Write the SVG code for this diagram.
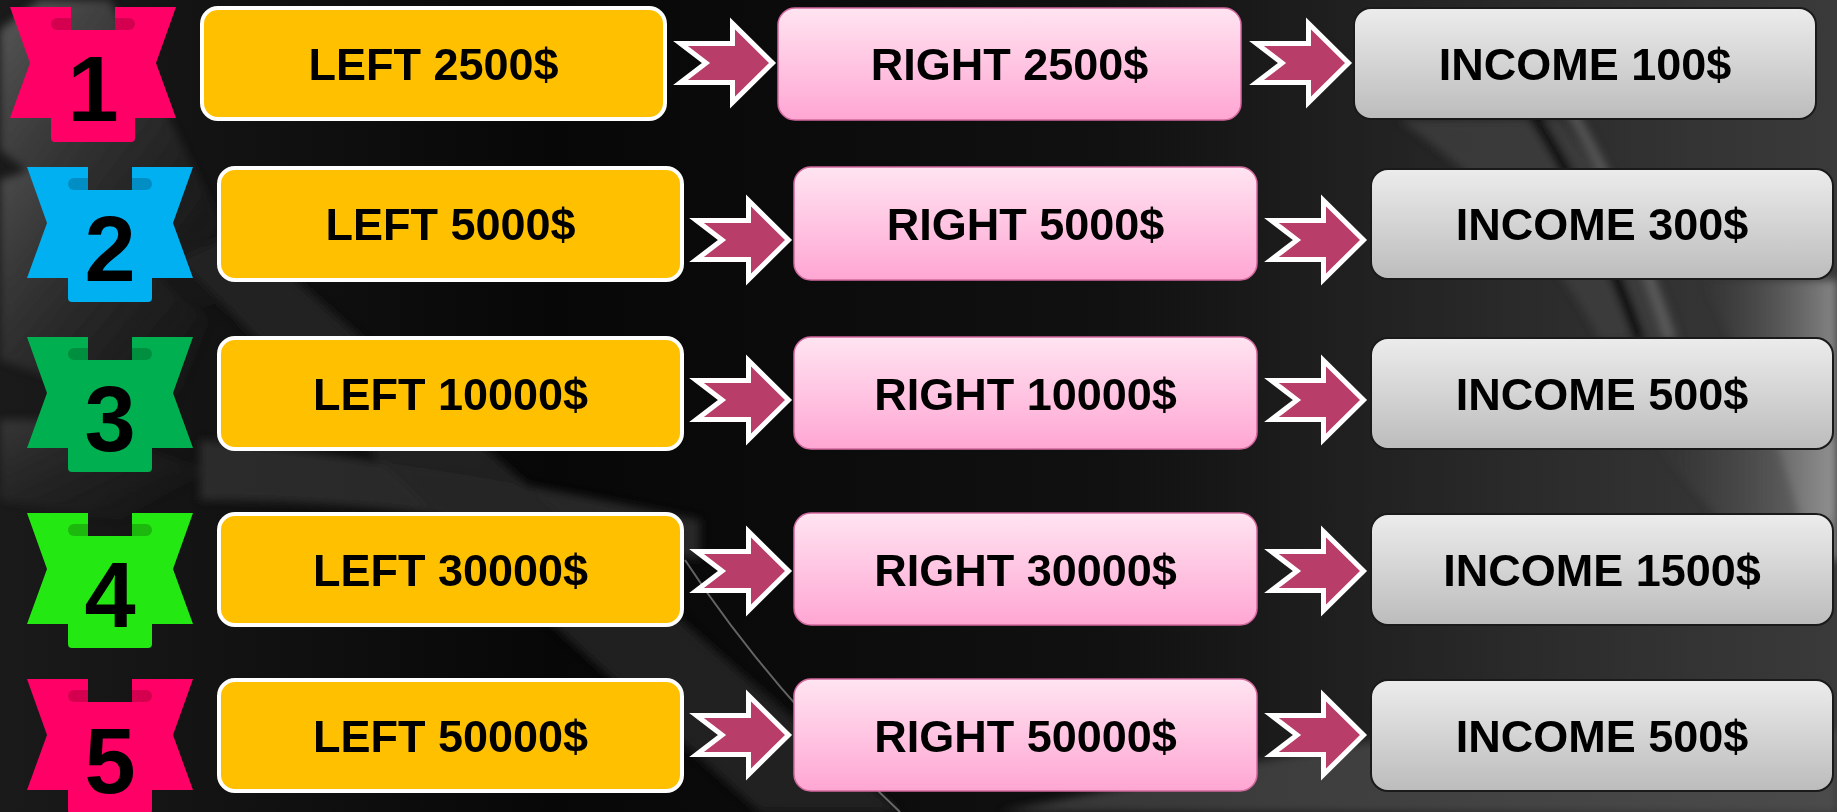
<svg xmlns="http://www.w3.org/2000/svg" width="1837" height="812" viewBox="0 0 1837 812">
<defs>
<linearGradient id="bg" x1="0" y1="0" x2="1" y2="0">
<stop offset="0" stop-color="#1a1a1a"/>
<stop offset="0.3" stop-color="#070707"/>
<stop offset="0.65" stop-color="#121212"/>
<stop offset="1" stop-color="#2a2a2a"/>
</linearGradient>
<linearGradient id="band" x1="0" y1="0" x2="1" y2="1">
<stop offset="0" stop-color="#777777" stop-opacity="0.9"/>
<stop offset="1" stop-color="#2a2a2a" stop-opacity="0"/>
</linearGradient>
<linearGradient id="band2" x1="0" y1="0" x2="1" y2="0">
<stop offset="0" stop-color="#2a2a2a" stop-opacity="0"/>
<stop offset="1" stop-color="#3a3a3a" stop-opacity="1"/>
</linearGradient>
<linearGradient id="edge" x1="0" y1="0" x2="1" y2="0">
<stop offset="0" stop-color="#555555" stop-opacity="0"/>
<stop offset="1" stop-color="#9a9a9a" stop-opacity="1"/>
</linearGradient>
<linearGradient id="pink" x1="0" y1="0" x2="0" y2="1">
<stop offset="0" stop-color="#ffe4f1"/>
<stop offset="1" stop-color="#ffa6d3"/>
</linearGradient>
<linearGradient id="gray" x1="0" y1="0" x2="0" y2="1">
<stop offset="0" stop-color="#ececec"/>
<stop offset="1" stop-color="#bcbcbc"/>
</linearGradient>
<filter id="blur" x="-20%" y="-20%" width="140%" height="140%"><feGaussianBlur stdDeviation="4"/></filter>
<path id="badge" d="M0,0 H61 V23 H105 V0 H166 L146,56 L166,111 H125 V131 Q125,135 121,135 H45 Q41,135 41,131 V111 H0 L20,56 Z"/>
<path id="pillL" d="M61,11 V23 H47 A6,6 0 0 1 47,11 Z"/>
<path id="pillR" d="M105,11 H119 A6,6 0 0 1 119,23 H105 Z"/>
<path id="arrow" d="M3.5,-19.5 H55.5 V-39.5 L95.5,0 L55.5,39.5 V19.5 H3.5 L29,0 Z"/>
</defs>
<style>
.lbox{fill:#ffc000;stroke:#ffffff;stroke-width:4}
.pbox{fill:url(#pink);stroke:#d36a9f;stroke-width:1.5}
.gbox{fill:url(#gray);stroke:#1a1a1a;stroke-width:2}
.t{font-family:"Liberation Sans",Arial,sans-serif;font-weight:bold;font-size:45px;fill:#000;text-anchor:middle}
.num{font-family:"Liberation Sans",Arial,sans-serif;font-weight:bold;font-size:92px;fill:#000;text-anchor:middle}
.arr{fill:#b83d68;stroke:#ffffff;stroke-width:5;stroke-linejoin:miter}
</style>

<g id="background">
<rect x="0" y="0" width="1837" height="812" fill="url(#bg)"/>
<rect x="1100" y="0" width="737" height="812" fill="url(#band2)"/>
<g filter="url(#blur)">
<path d="M0,30 L40,0 L110,0 L250,280 L220,320 L0,150 Z" fill="url(#band)" opacity="0.75"/>
<path d="M0,180 L30,170 L210,320 L170,420 L0,360 Z" fill="url(#band)" opacity="0.6"/>
<path d="M0,420 L40,420 L210,470 L120,520 L0,500 Z" fill="url(#band)" opacity="0.35"/>
<path d="M200,440 Q420,460 700,520 L700,560 Q430,500 200,500 Z" fill="#3a3a3a" opacity="0.6"/>
<path d="M180,260 Q430,520 760,812 L900,812 Q520,480 240,230 Z" fill="#262626" opacity="0.8"/>
<path d="M1400,120 L1560,120 Q1640,220 1680,340 L1600,340 Q1540,220 1400,120 Z" fill="#3e3e3e" opacity="0.8"/>
<path d="M1530,110 Q1590,200 1640,340" fill="none" stroke="#000" stroke-width="12" opacity="0.8"/>
<path d="M1570,110 Q1630,210 1670,340" fill="none" stroke="#6a6a6a" stroke-width="10" opacity="0.7"/>
<path d="M1700,280 Q1780,420 1810,560 L1837,560 L1837,280 Z" fill="url(#edge)" opacity="0.8"/>
<path d="M1650,440 L1837,440 L1837,520 L1720,520 Z" fill="url(#edge)" opacity="0.6"/>
<path d="M1000,812 Q1250,760 1500,720 L1837,730 L1837,812 Z" fill="#5a5a5a" opacity="0.55"/>
</g>
<path d="M685,560 Q770,690 900,812" fill="none" stroke="#a0a0a0" stroke-width="2" opacity="0.6"/>
</g>

<g id="badge1"><use href="#badge" x="10" y="7" fill="#ff0066"/><use href="#pillL" x="10" y="7" fill="#d4004f"/><use href="#pillR" x="10" y="7" fill="#d4004f"/><text class="num" x="93" y="121">1</text></g>
<g id="badge2"><use href="#badge" x="27" y="167" fill="#00b0f0"/><use href="#pillL" x="27" y="167" fill="#008ec4"/><use href="#pillR" x="27" y="167" fill="#008ec4"/><text class="num" x="110" y="281">2</text></g>
<g id="badge3"><use href="#badge" x="27" y="337" fill="#00b050"/><use href="#pillL" x="27" y="337" fill="#008f3e"/><use href="#pillR" x="27" y="337" fill="#008f3e"/><text class="num" x="110" y="451">3</text></g>
<g id="badge4"><use href="#badge" x="27" y="513" fill="#24e812"/><use href="#pillL" x="27" y="513" fill="#1db80e"/><use href="#pillR" x="27" y="513" fill="#1db80e"/><text class="num" x="110" y="627">4</text></g>
<g id="badge5"><use href="#badge" x="27" y="679" fill="#ff0066"/><use href="#pillL" x="27" y="679" fill="#d4004f"/><use href="#pillR" x="27" y="679" fill="#d4004f"/><text class="num" x="110" y="793">5</text></g>

<g id="left1"><rect class="lbox" x="202" y="8" width="463" height="111" rx="16"/><text class="t" x="433.5" y="80">LEFT 2500$</text></g>
<g id="left2"><rect class="lbox" x="219" y="168" width="463" height="112" rx="16"/><text class="t" x="450.5" y="240">LEFT 5000$</text></g>
<g id="left3"><rect class="lbox" x="219" y="338" width="463" height="111" rx="16"/><text class="t" x="450.5" y="410">LEFT 10000$</text></g>
<g id="left4"><rect class="lbox" x="219" y="514" width="463" height="111" rx="16"/><text class="t" x="450.5" y="586">LEFT 30000$</text></g>
<g id="left5"><rect class="lbox" x="219" y="680" width="463" height="111" rx="16"/><text class="t" x="450.5" y="752">LEFT 50000$</text></g>

<g id="right1"><rect class="pbox" x="778" y="8" width="463" height="112" rx="17"/><text class="t" x="1009.5" y="80">RIGHT 2500$</text></g>
<g id="right2"><rect class="pbox" x="794" y="167" width="463" height="113" rx="17"/><text class="t" x="1025.5" y="240">RIGHT 5000$</text></g>
<g id="right3"><rect class="pbox" x="794" y="337" width="463" height="112" rx="17"/><text class="t" x="1025.5" y="410">RIGHT 10000$</text></g>
<g id="right4"><rect class="pbox" x="794" y="513" width="463" height="112" rx="17"/><text class="t" x="1025.5" y="586">RIGHT 30000$</text></g>
<g id="right5"><rect class="pbox" x="794" y="679" width="463" height="112" rx="17"/><text class="t" x="1025.5" y="752">RIGHT 50000$</text></g>

<g id="income1"><rect class="gbox" x="1354" y="8" width="462" height="111" rx="17"/><text class="t" x="1585" y="80">INCOME 100$</text></g>
<g id="income2"><rect class="gbox" x="1371" y="169" width="462" height="110" rx="17"/><text class="t" x="1602" y="240">INCOME 300$</text></g>
<g id="income3"><rect class="gbox" x="1371" y="338" width="462" height="111" rx="17"/><text class="t" x="1602" y="410">INCOME 500$</text></g>
<g id="income4"><rect class="gbox" x="1371" y="514" width="462" height="111" rx="17"/><text class="t" x="1602" y="586">INCOME 1500$</text></g>
<g id="income5"><rect class="gbox" x="1371" y="680" width="462" height="111" rx="17"/><text class="t" x="1602" y="752">INCOME 500$</text></g>

<g id="connectors">
<use href="#arrow" class="arr" x="677" y="63"/>
<use href="#arrow" class="arr" x="1253" y="63"/>
<use href="#arrow" class="arr" x="693" y="240"/>
<use href="#arrow" class="arr" x="1268" y="240"/>
<use href="#arrow" class="arr" x="693" y="400"/>
<use href="#arrow" class="arr" x="1268" y="400"/>
<use href="#arrow" class="arr" x="693" y="571"/>
<use href="#arrow" class="arr" x="1268" y="571"/>
<use href="#arrow" class="arr" x="693" y="735"/>
<use href="#arrow" class="arr" x="1268" y="735"/>
</g>
</svg>
